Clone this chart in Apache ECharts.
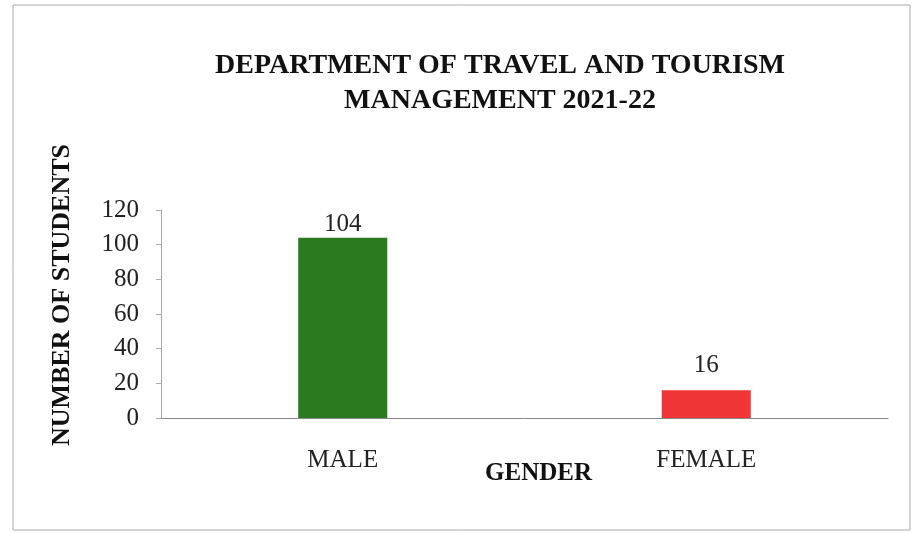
<!DOCTYPE html>
<html>
<head>
<meta charset="utf-8">
<script src="https://cdn.jsdelivr.net/npm/echarts@6/dist/echarts.min.js"></script>
<style>
    html, body { margin: 0; padding: 0; background: #fff; }
    #chart { width: 914px; height: 533px; }
</style>
</head>
<body>
<div id="chart"></div>
<script>
// 数据
var categories = ['MALE', 'FEMALE'];
var students = [104, 16];
var barColors = ['#2c7a20', '#ef3535'];
var labelGaps = [1, 12];
var yTicks = [0, 20, 40, 60, 80, 100, 120];

var myChart = echarts.init(document.getElementById('chart'));

var serif = '"Liberation Serif", "DejaVu Serif", serif';

var option = {
    backgroundColor: '#ffffff',
    animation: false,
    title: {
        text: 'DEPARTMENT OF TRAVEL AND TOURISM\nMANAGEMENT 2021-22',
        left: 495,
        top: 43,
        textAlign: 'center',
        textStyle: {
            fontFamily: serif,
            fontWeight: 'bold',
            fontSize: 28,
            lineHeight: 35,
            color: '#111'
        }
    },
    graphic: [{
        type: 'rect',
        shape: { x: 13, y: 5, width: 897, height: 525 },
        style: { fill: 'none', stroke: '#aaaaaa', lineWidth: 1 }
    }, {
        // 纵轴标题
        type: 'text',
        x: 62,
        y: 295,
        rotation: Math.PI / 2,
        style: {
            text: 'NUMBER OF STUDENTS',
            fontFamily: serif,
            fontWeight: 'bold',
            fontSize: 26,
            fill: '#111',
            align: 'center',
            verticalAlign: 'middle'
        }
    }],
    grid: {
        left: 161,
        right: 26,
        top: 210,
        bottom: 115
    },
    xAxis: {
        type: 'category',
        data: categories,
        name: 'GENDER',
        nameLocation: 'middle',
        nameGap: 43,
        nameMoveOverlap: false,
        nameTextStyle: {
            fontFamily: serif,
            fontWeight: 'bold',
            fontSize: 25,
            color: '#111',
            padding: [0, 0, 0, 28]
        },
        axisLine: { lineStyle: { color: '#888', width: 1 } },
        axisTick: { show: false },
        axisLabel: {
            fontFamily: serif,
            fontSize: 25,
            color: '#222',
            margin: 30
        }
    },
    yAxis: {
        type: 'value',
        min: 0,
        max: 120,
        interval: 20,
        axisLine: { show: true, lineStyle: { color: '#aaa', width: 1 } },
        axisTick: { show: true, length: 5, lineStyle: { color: '#aaa' } },
        splitLine: { show: false },
        axisLabel: {
            fontFamily: serif,
            fontSize: 25,
            color: '#222',
            margin: 22,
            formatter: function (v) {
                return yTicks.indexOf(v) >= 0 ? String(v) : '';
            }
        }
    },
    series: [{
        type: 'bar',
        barWidth: '24.5%',
        data: students.map(function (v, i) {
            return {
                value: v,
                itemStyle: { color: barColors[i] },
                label: { distance: labelGaps[i] }
            };
        }),
        label: {
            show: true,
            position: 'top',
            fontFamily: serif,
            fontSize: 25,
            color: '#222'
        }
    }]
};

myChart.setOption(option);
</script>
</body>
</html>
